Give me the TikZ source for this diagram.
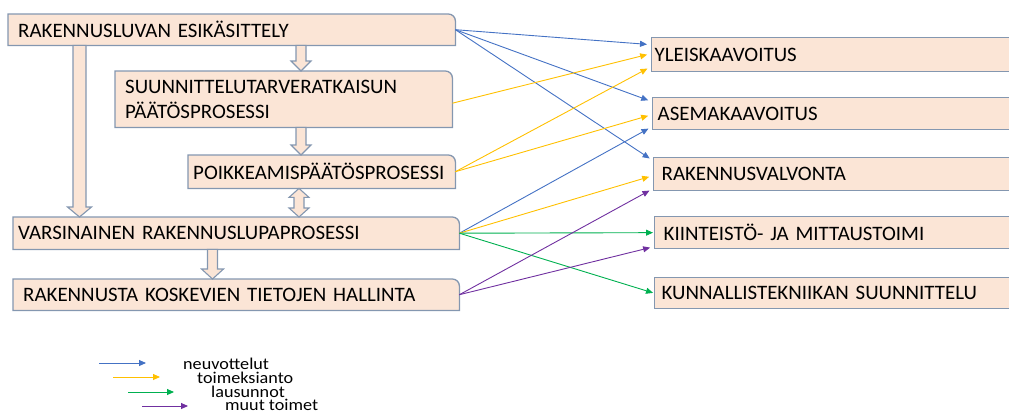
\documentclass[tikz,border=0pt]{standalone}
\usepackage{fontspec}
\setmainfont{Carlito}
\newfontfamily\boxf{Carlito}[FakeStretch=1.02]
\newfontfamily\legf{Carlito}[FakeStretch=1.1]
\usetikzlibrary{arrows.meta,backgrounds,calc}
\definecolor{peach}{RGB}{251,229,214}
\definecolor{bord}{RGB}{132,151,176}
\definecolor{cblue}{RGB}{68,114,196}
\definecolor{cyellow}{RGB}{255,192,0}
\definecolor{cgreen}{RGB}{0,176,80}
\definecolor{cpurple}{RGB}{112,48,160}
\newcommand\tabshape[1]{\path[boxshape] (#1.south west) -- (#1.north west) -- ([xshift=-7pt]#1.north east) arc[start angle=90,end angle=0,radius=7pt] -- (#1.south east) -- cycle;}
% block arrow down: #1 from anchor, #2 to anchor, #3 x, #4 half shaft, #5 half head, #6 head length
\newcommand\blkdown[6]{\path[blk] let \p1=(#1), \p2=(#2) in
  (#3pt-#4pt,\y1) -- (#3pt-#4pt,\y2+#6pt) -- (#3pt-#5pt,\y2+#6pt) -- (#3pt,\y2)
  -- (#3pt+#5pt,\y2+#6pt) -- (#3pt+#4pt,\y2+#6pt) -- (#3pt+#4pt,\y1) -- cycle;}
\newcommand\blkdouble[6]{\path[blk] let \p1=(#1), \p2=(#2) in
  (#3pt,\y1) -- (#3pt+#5pt,\y1-#6pt) -- (#3pt+#4pt,\y1-#6pt) -- (#3pt+#4pt,\y2+#6pt)
  -- (#3pt+#5pt,\y2+#6pt) -- (#3pt,\y2) -- (#3pt-#5pt,\y2+#6pt) -- (#3pt-#4pt,\y2+#6pt)
  -- (#3pt-#4pt,\y1-#6pt) -- (#3pt-#5pt,\y1-#6pt) -- cycle;}
\begin{document}
\begin{tikzpicture}[x=1pt,y=1pt,
  boxfont/.style={font=\boxf\fontsize{20.5}{25}\selectfont},
  lbox/.style={boxfont, anchor=north west, inner ysep=0pt, align=left},
  boxshape/.style={fill=peach, draw=bord, line width=1.3pt},
  rbox/.style={boxfont, anchor=north west, inner ysep=0pt, align=left,
    minimum width=400pt, fill=peach, draw=bord, line width=1.3pt},
  blk/.style={draw=bord, fill=peach, line width=1.1pt, line join=miter},
  con/.style={line width=0.9pt, -{Triangle[length=7pt,width=6pt]}, shorten >=4pt},
  legfont/.style={font=\legf\fontsize{16.5}{18}\selectfont, anchor=west, inner sep=0pt}
]
\clip (0,0) rectangle (1009,-413);
\useasboundingbox (0,0) rectangle (1009,-413);

% left boxes
\node[lbox, inner xsep=10pt, minimum height=31pt, text width=427pt] (b1) at (8,-14) {RAKENNUSLUVAN ESIKÄSITTELY};
\node[lbox, inner xsep=10pt, minimum height=56pt, text width=317pt] (b2) at (115,-71) {SUUNNITTELUTARVERATKAISUN\\PÄÄTÖSPROSESSI};
\node[lbox, inner xsep=5pt, minimum height=33pt, text width=257pt] (b3) at (188,-155) {POIKKEAMISPÄÄTÖSPROSESSI};
\node[lbox, inner xsep=5pt, minimum height=32pt, text width=436pt] (b4) at (13,-217) {VARSINAINEN RAKENNUSLUPAPROSESSI};
\node[lbox, inner xsep=10pt, minimum height=31pt, text width=426pt] (b5) at (13,-279) {RAKENNUSTA KOSKEVIEN TIETOJEN HALLINTA};
\begin{scope}[on background layer]
\tabshape{b1}
\tabshape{b2}
\tabshape{b3}
\tabshape{b4}
\tabshape{b5}
\end{scope}

% right boxes
\node[rbox, minimum height=34pt, inner xsep=3pt, text width=394pt] (r1) at (651,-37) {YLEISKAAVOITUS};
\node[rbox, minimum height=32pt, inner xsep=5pt, text width=390pt] (r2) at (652,-97) {ASEMAKAAVOITUS};
\node[rbox, minimum height=33pt, inner xsep=8pt, text width=384pt] (r3) at (653,-157) {RAKENNUSVALVONTA};
\node[rbox, minimum height=32pt, inner xsep=9pt, text width=382pt] (r4) at (654,-216) {KIINTEISTÖ- JA MITTAUSTOIMI};
\node[rbox, minimum height=31pt, inner xsep=7pt, text width=386pt] (r5) at (654,-277) {KUNNALLISTEKNIIKAN SUUNNITTELU};

% block arrows
\blkdown{b1.south}{b4.north}{79.5}{6.5}{12}{10}
\blkdown{b1.south}{b2.north}{301}{5}{10}{10}
\blkdown{b2.south}{b3.north}{301}{5}{10}{10}
\blkdouble{b3.south}{b4.north}{299}{5}{10}{9}
\blkdown{b4.south}{b5.north}{212.5}{5}{11}{10}

% connectors
\draw[con, cblue] (b1.east) -- ([yshift=10pt]r1.west);
\draw[con, cblue] (b1.east) -- ([yshift=12pt]r2.west);
\draw[con, cblue] (b1.east) -- ([yshift=13.5pt]r3.west);
\draw[con, cyellow] ([yshift=-4pt]b2.east) -- ([yshift=1pt]r1.west);
\draw[con, cyellow] (b3.east) -- ([yshift=-12pt]r1.west);
\draw[con, cyellow] (b3.east) -- ([yshift=-1pt]r2.west);
\draw[con, cblue] (b4.east) -- ([yshift=-13pt]r2.west);
\draw[con, cyellow] (b4.east) -- ([yshift=-1.5pt]r3.west);
\draw[con, cgreen, shorten >=1pt] (b4.east) -- (r4.west);
\draw[con, cgreen, shorten >=1pt] (b4.east) -- (r5.west);
\draw[con, cpurple] (b5.east) -- ([yshift=-14.5pt]r3.west);
\draw[con, cpurple] (b5.east) -- ([yshift=-14pt]r4.west);

% legend
\coordinate (l1a) at (99,-363);  \coordinate (l1b) at (146,-363);
\coordinate (l2a) at (113,-377); \coordinate (l2b) at (160,-377);
\coordinate (l3a) at (128,-392); \coordinate (l3b) at (174,-392);
\coordinate (l4a) at (142,-406); \coordinate (l4b) at (188,-406);
\draw[con, shorten >=0pt, cblue] (l1a) -- (l1b);
\draw[con, shorten >=0pt, cyellow] (l2a) -- (l2b);
\draw[con, shorten >=0pt, cgreen] (l3a) -- (l3b);
\draw[con, shorten >=0pt, cpurple] (l4a) -- (l4b);
\node[legfont] (t1) at (183,-364) {neuvottelut};
\node[legfont] (t2) at (197,-378) {toimeksianto};
\node[legfont] (t3) at (211,-392) {lausunnot};
\node[legfont] (t4) at (225,-405) {muut toimet};
\end{tikzpicture}
\end{document}
